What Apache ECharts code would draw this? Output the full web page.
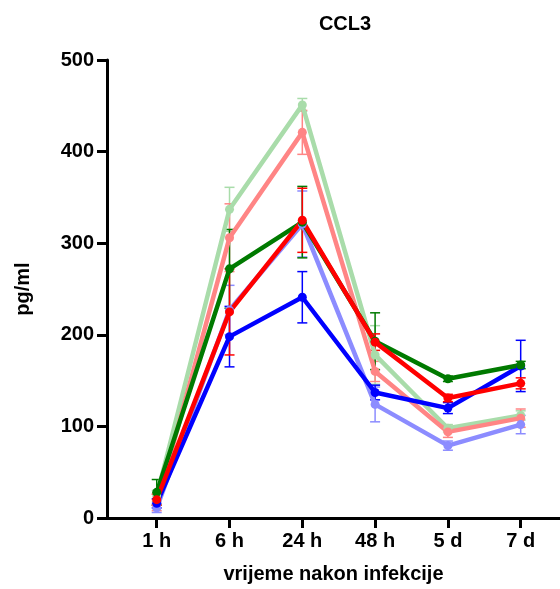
<!DOCTYPE html>
<html>
<head>
<meta charset="utf-8">
<script src="https://cdn.jsdelivr.net/npm/echarts@6/dist/echarts.min.js"></script>
<style>
  html, body { margin: 0; padding: 0; background: #fff; }
  #chart { width: 560px; height: 589px; }
</style>
</head>
<body>
<div id="chart"></div>
<script>
// vremenske točke
var categories = ['1 h', '6 h', '24 h', '48 h', '5 d', '7 d']
var yTicks = [0, 100, 200, 300, 400, 500]

// srednje vrijednosti i greške (pg/ml)
var lightGreen = [24, 337, 451, 178, 98, 112]
var lightGreenErr = [6, 24, 7, 32, 4, 5]
var lightRed = [14, 306, 421, 160, 94, 109]
var lightRedErr = [6, 37, 24, 11, 6, 10]
var lightBlue = [11, 227, 321, 124, 79, 102]
var lightBlueErr = [5, 27, 36, 19, 5, 10]
var blue = [16, 198, 241, 137, 120, 166]
var blueErr = [5, 33, 28, 8, 6, 28]
var green = [28, 272, 323, 193, 152, 167]
var greenErr = [14, 43, 39, 31, 3, 4]
var red = [20, 225, 325, 192, 131, 147]
var redErr = [6, 47, 35, 9, 4, 6]

var groups = [
  { values: lightGreen, errors: lightGreenErr, color: '#a9dcaa' },
  { values: lightRed, errors: lightRedErr, color: '#ff8585' },
  { values: lightBlue, errors: lightBlueErr, color: '#8c8cff' },
  { values: blue, errors: blueErr, color: '#0000ff' },
  { values: green, errors: greenErr, color: '#007a00' },
  { values: red, errors: redErr, color: '#ff0000' }
]

var font = "'Liberation Sans', Arial, sans-serif"
var chart = echarts.init(document.getElementById('chart'))

var series = []
groups.forEach(function(g) {
  // error bars
  series.push({
    type: 'custom',
    silent: true,
    data: g.values.map(function(v, i) { return [i, v, g.errors[i]] }),
    renderItem: function(params, api) {
      var x = api.value(0)
      var y = api.value(1)
      var e = api.value(2)
      var top = api.coord([x, y + e])
      var bot = api.coord([x, y - e])
      var w = 5
      var style = { stroke: g.color, lineWidth: 1.5 }
      return {
        type: 'group',
        children: [
          { type: 'line', shape: { x1: top[0], y1: top[1], x2: bot[0], y2: bot[1] }, style: style },
          { type: 'line', shape: { x1: top[0] - w, y1: top[1], x2: top[0] + w, y2: top[1] }, style: style },
          { type: 'line', shape: { x1: bot[0] - w, y1: bot[1], x2: bot[0] + w, y2: bot[1] }, style: style }
        ]
      }
    }
  })
  // mean line
  series.push({
    type: 'line',
    data: g.values.map(function(v, i) { return [i, v] }),
    symbol: 'circle',
    symbolSize: 9,
    lineStyle: { width: 4.5, color: g.color },
    itemStyle: { color: g.color },
    animation: false
  })
})

chart.setOption({
  animation: false,
  title: {
    text: 'CCL3',
    left: 340,
    top: 9,
    textAlign: 'center',
    textStyle: { fontFamily: font, fontSize: 20, fontWeight: 'bold', color: '#000' }
  },
  grid: { left: 107, right: 0, top: 60, bottom: 69 },
  xAxis: {
    type: 'value',
    min: -0.683,
    max: 5.54,
    name: 'vrijeme nakon infekcije',
    nameLocation: 'middle',
    nameGap: 46,
    nameTextStyle: { fontFamily: font, fontSize: 20, fontWeight: 'bold', color: '#000' },
    axisLine: { lineStyle: { color: '#000', width: 3 } },
    axisTick: {
      customValues: [0, 1, 2, 3, 4, 5],
      length: 10,
      lineStyle: { color: '#000', width: 3 }
    },
    axisLabel: {
      customValues: [0, 1, 2, 3, 4, 5],
      margin: 13,
      fontFamily: font,
      fontSize: 20,
      fontWeight: 'bold',
      color: '#000',
      formatter: function(v) { return categories[Math.round(v)] }
    },
    splitLine: { show: false }
  },
  yAxis: {
    type: 'value',
    min: yTicks[0],
    max: yTicks[yTicks.length - 1],
    interval: 100,
    name: 'pg/ml',
    nameLocation: 'middle',
    nameGap: 74,
    nameTextStyle: { fontFamily: font, fontSize: 20, fontWeight: 'bold', color: '#000' },
    axisLine: { show: true, onZero: false, lineStyle: { color: '#000', width: 3 } },
    axisTick: { show: true, length: 10, lineStyle: { color: '#000', width: 3 } },
    axisLabel: {
      margin: 13,
      fontFamily: font,
      fontSize: 20,
      fontWeight: 'bold',
      color: '#000'
    },
    splitLine: { show: false }
  },
  series: series
})
</script>
</body>
</html>
